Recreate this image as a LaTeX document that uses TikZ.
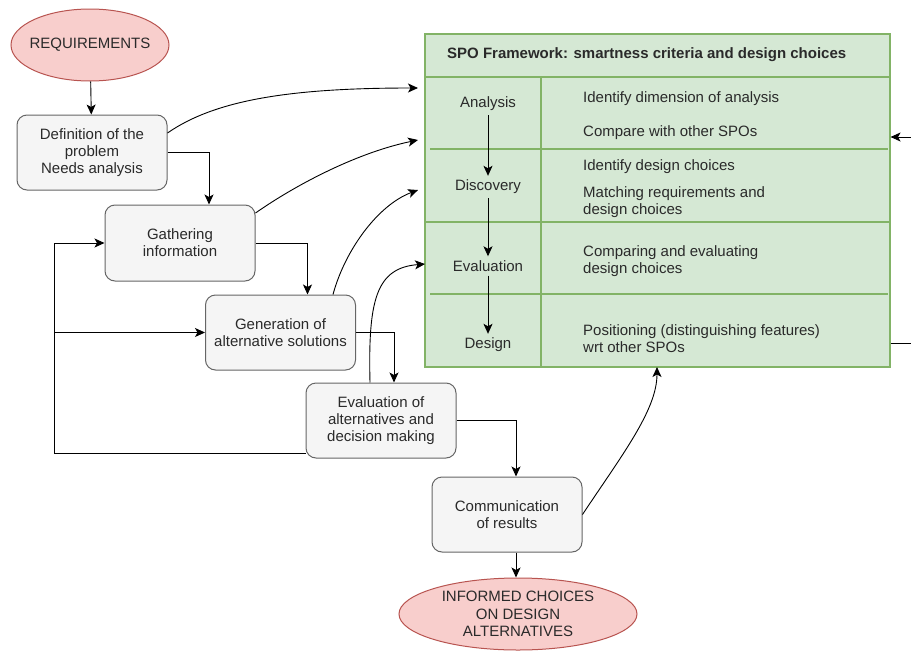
\documentclass[tikz,border=0pt]{standalone}
\usepackage{fontspec}
\setmainfont{Liberation Sans}
\usetikzlibrary{arrows.meta,shapes.geometric}
\definecolor{boxfill}{HTML}{F5F5F5}
\definecolor{boxdraw}{HTML}{666666}
\definecolor{redfill}{HTML}{F8CECC}
\definecolor{reddraw}{HTML}{B85450}
\definecolor{greenfill}{HTML}{D5E8D4}
\definecolor{greendraw}{HTML}{82B366}
\definecolor{txt}{HTML}{2A2A2A}
\tikzset{
  stepbox/.style={draw=boxdraw, fill=boxfill, rounded corners=10pt, line width=1pt,
    minimum width=150pt, minimum height=75pt, inner sep=0pt, align=center,
    text=txt, font=\fontsize{15}{17}\selectfont},
  terminal/.style={ellipse, draw=reddraw, fill=redfill, line width=1pt, inner sep=0pt,
    align=center, text=txt, font=\fontsize{15}{17.5}\selectfont},
  arr/.style={-{Stealth[length=10pt,width=9pt,inset=2.5pt]}, line width=0.9pt},
  conn/.style={line width=0.9pt},
  gline/.style={draw=greendraw, line width=1.1pt},
  lbl/.style={font=\fontsize{15}{17}\selectfont, text=txt, inner sep=4pt},
  rtxt/.style={font=\fontsize{15}{17.5}\selectfont, text=txt, anchor=west, align=left, inner sep=0pt},
}
\begin{document}
\begin{tikzpicture}[x=1pt,y=-1pt]
\useasboundingbox (0,0) rectangle (911,651);

% green framework box
\node[draw=greendraw, fill=greenfill, line width=1.1pt, minimum width=465pt, minimum height=333pt, inner sep=0pt] (spo) at (657.5,200.5) {};
\draw[gline] (425,77) -- (890,77);
\draw[gline] (541,77) -- (541,367);
\draw[gline] (430,149) -- (888,149);
\draw[gline] (425,222) -- (890,222);
\draw[gline] (430,294) -- (888,294);

\node[anchor=west, inner sep=0pt, text=txt, font=\fontsize{15}{17}\selectfont\bfseries] (head) at (447,55) {SPO Framework: smartness criteria and design choices};

\node[lbl] (ana) at (488,104) {Analysis};
\node[lbl] (dis) at (488,187) {Discovery};
\node[lbl] (eva) at (488,266) {Evaluation};
\node[lbl] (des) at (488,345) {Design};
\draw[arr] (ana) -- (dis);
\draw[arr] (dis) -- (eva);
\draw[arr] (eva) -- (des);

\node[rtxt] (r1) at (583,99) {Identify dimension of analysis};
\node[rtxt] (r2) at (583,133) {Compare with other SPOs};
\node[rtxt] (r3) at (583,167) {Identify design choices};
\node[rtxt] (r4) at (583,202) {Matching requirements and\\design choices};
\node[rtxt] (r5) at (583,261) {Comparing and evaluating\\design choices};
\node[rtxt] (r6) at (583,338.5) {Positioning (distinguishing features)\\wrt other SPOs};

% process boxes
\node[terminal, minimum width=158pt, minimum height=72pt, inner sep=-8pt] (req) at (90,45) {REQUIREMENTS};
\node[stepbox] (def) at (92,152.5) {Definition of the\\problem\\Needs analysis};
\node[stepbox, minimum height=76pt] (gath) at (180,243) {Gathering\\information};
\node[stepbox] (gen) at (280.5,332.5) {Generation of\\alternative solutions};
\node[stepbox] (evl) at (381,420.5) {Evaluation of\\alternatives and\\decision making};
\node[stepbox] (com) at (507,514.5) {Communication\\of results};
\node[terminal, minimum width=238pt, minimum height=72pt, inner sep=-2pt] (inf) at (518,614) {INFORMED CHOICES\\ON DESIGN\\ALTERNATIVES};

% straight connectors
\draw[arr] (req) -- (def);
\draw[arr] (def.east) -| ([xshift=29pt]gath.north);
\draw[arr] (gath.east) -| ([xshift=27pt]gen.north);
\draw[arr] (gen.east) -| ([xshift=13pt]evl.north);
\draw[arr] (evl.east) -| ([xshift=9pt]com.north);
\draw[arr] ([xshift=9pt]com.south) -- ([xshift=-2pt]inf.north);

% feedback loop
\coordinate (fb) at ([yshift=-32.5pt]evl.west);
\coordinate (fbc) at (54,243);
\coordinate (fbm) at (54,332.5);
\draw[arr] (fb) -| (fbc) -- (gath.west);
\draw[arr] (fbm) -- (gen.west);

% curved connectors to framework
\coordinate (e1) at (418,88);
\coordinate (e2) at (418,140);
\coordinate (e3) at (418,190);
\coordinate (e4) at (425,264);
\coordinate (e5) at (657,367);
\draw[arr] ([yshift=19.5pt]def.east) .. controls (215,100) and (290,88) .. (e1);
\draw[arr] ([yshift=30pt]gath.east) .. controls (300,182) and (360,152) .. (e2);
\draw[arr] ([xshift=52.5pt]gen.north) .. controls (345,250) and (378,205) .. (e3);
\draw[arr] ([xshift=-11pt]evl.north) .. controls (368,300) and (376,268) .. (e4);
\draw[arr] (com.east) .. controls (622,455) and (657,410) .. (e5);

% stubs at right edge
\coordinate (rin) at (911,137);
\coordinate (rout) at (911,343);
\draw[arr] (rin) -- (rin -| spo.east);
\draw[conn] (rout -| spo.east) -- (rout);
\end{tikzpicture}
\end{document}
